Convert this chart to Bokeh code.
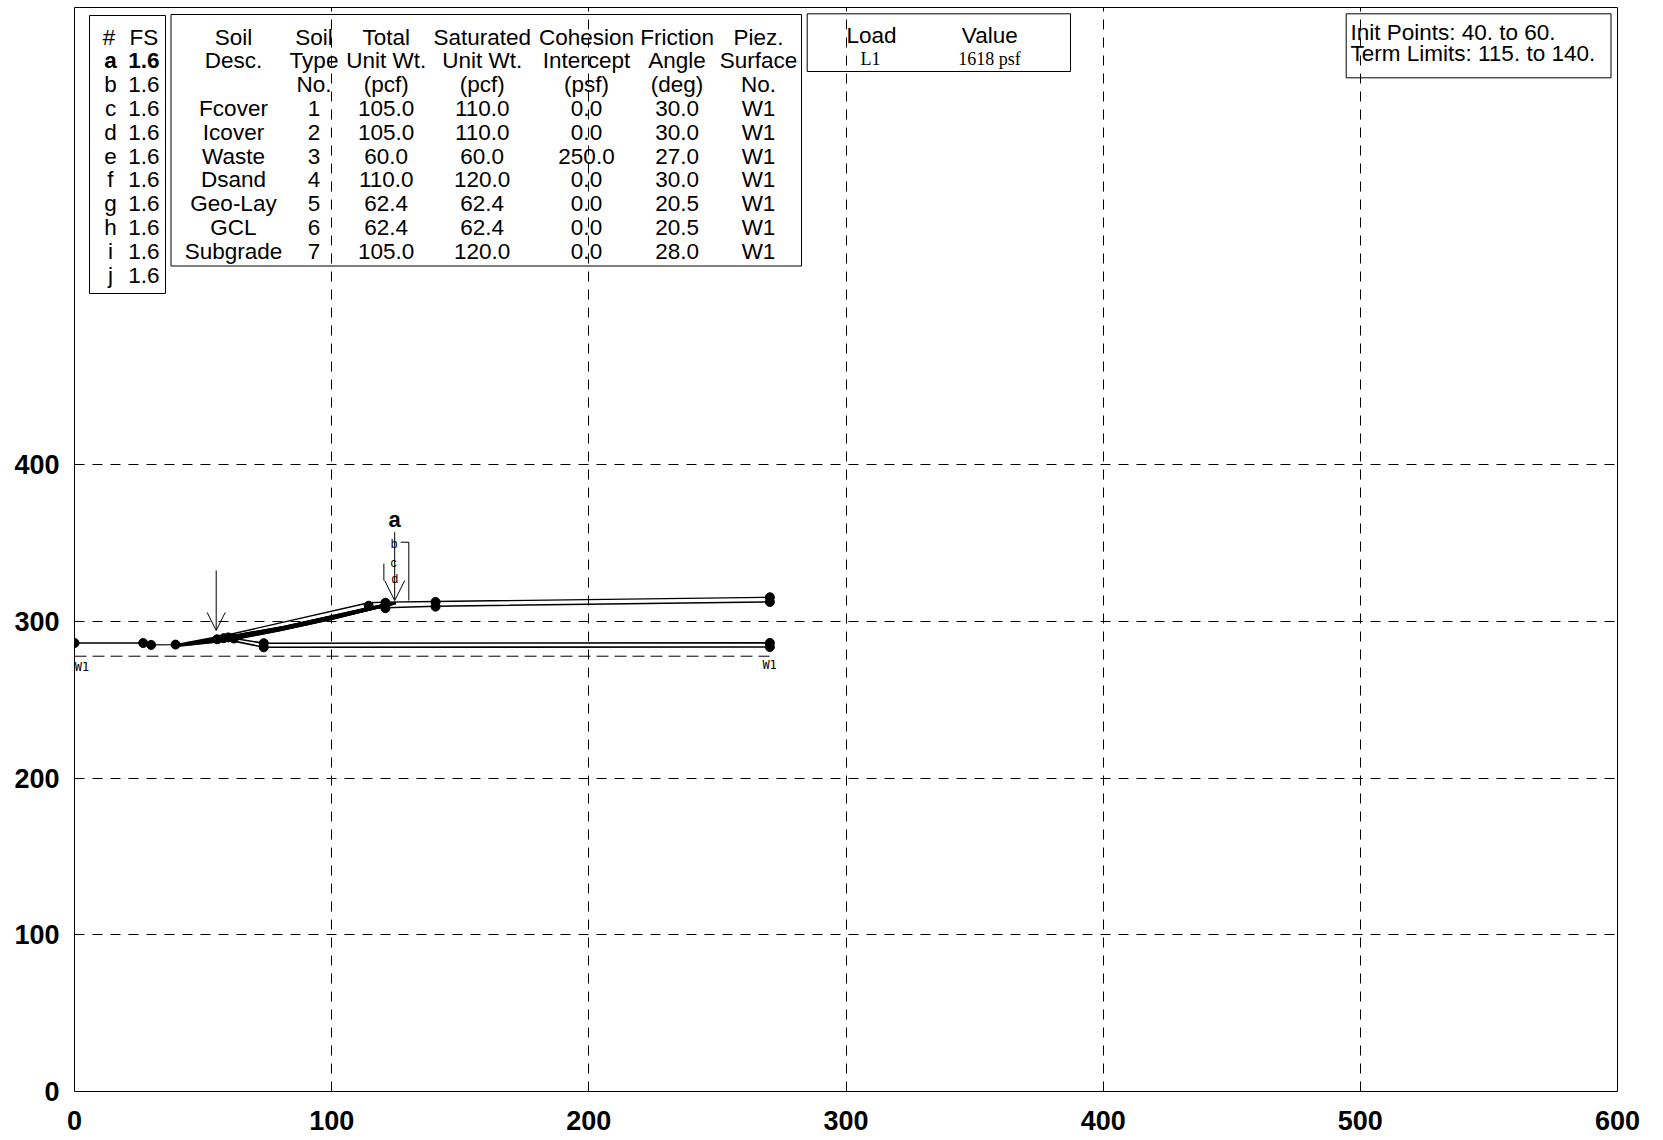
from bokeh.plotting import figure
from bokeh.models import Range1d, FixedTicker, BoxAnnotation, Label, Arrow, OpenHead
from bokeh.core.properties import value
from bokeh.embed import file_html
from bokeh.resources import INLINE

# ---------------- data ----------------
x_ticks = [0, 100, 200, 300, 400, 500, 600]
y_ticks = [0, 100, 200, 300, 400]

fs_ids = ["a", "b", "c", "d", "e", "f", "g", "h", "i", "j"]
fs_vals = ["1.6", "1.6", "1.6", "1.6", "1.6", "1.6", "1.6", "1.6", "1.6", "1.6"]

soil_desc = ["Fcover", "Icover", "Waste", "Dsand", "Geo-Lay", "GCL", "Subgrade"]
soil_type = ["1", "2", "3", "4", "5", "6", "7"]
total_wt = ["105.0", "105.0", "60.0", "110.0", "62.4", "62.4", "105.0"]
sat_wt = ["110.0", "110.0", "60.0", "120.0", "62.4", "62.4", "120.0"]
cohesion = ["0.0", "0.0", "250.0", "0.0", "0.0", "0.0", "0.0"]
friction = ["30.0", "30.0", "27.0", "30.0", "20.5", "20.5", "28.0"]
piez_no = ["W1", "W1", "W1", "W1", "W1", "W1", "W1"]
table_headers = [["Soil", "Desc.", ""], ["Soil", "Type", "No."], ["Total", "Unit Wt.", "(pcf)"],
                 ["Saturated", "Unit Wt.", "(pcf)"], ["Cohesion", "Intercept", "(psf)"],
                 ["Friction", "Angle", "(deg)"], ["Piez.", "Surface", "No."]]

load_names = ["L1"]
load_values = ["1618 psf"]
search_text = ["Init Points: 40. to 60.", "Term Limits: 115. to 140."]

# soil boundary lines
top_x = [0, 26.7, 29.8, 39.3, 59.8, 114.4, 120.9, 140.4, 270.4]
top_y = [286.1, 286.1, 284.9, 285.1, 291.4, 311.8, 312.2, 312.6, 315.3]
cover_x = [39.3, 59.8, 114.4, 120.9, 140.4, 270.4]
cover_y = [284.6, 288.6, 308.8, 308.6, 309.6, 312.3]
geo_x = [59.8, 73.6, 270.4]
geo_y = [289.6, 286.0, 286.2]
gcl_x = [60.5, 73.6, 270.4]
gcl_y = [287.8, 283.4, 283.6]

# piezometric surface W1
piez_x = [0, 270.3]
piez_y = [277.7, 277.7]

# vertex dots
dot_x = [0, 26.7, 29.8, 39.3, 55.5, 58.0, 59.8, 62.0, 73.6, 73.6, 114.4, 120.9, 120.9,
         140.4, 140.4, 270.4, 270.4, 270.4, 270.4]
dot_y = [286.1, 286.1, 284.9, 285.1, 288.5, 289.2, 289.7, 289.0, 286.0, 283.4, 309.9, 311.8, 308.3,
         312.3, 309.3, 315.3, 312.3, 286.2, 283.6]

# failure surfaces a..j
fail_x = [
    [40, 60, 80, 100, 121],
    [44, 60, 80, 100, 123],
    [48, 60, 80, 100, 122],
    [52, 60, 82, 102, 123],
    [56, 61, 82, 102, 124],
    [42, 58, 80, 100, 122],
    [46, 59, 80, 100, 123],
    [50, 60, 81, 101, 122],
    [54, 60, 81, 101, 124],
    [58, 62, 82, 102, 125],
]
fail_y = [
    [284.6, 288.0, 294.6, 301.8, 310.4],
    [285.8, 288.6, 295.0, 302.2, 311.0],
    [287.0, 289.2, 295.4, 302.6, 310.8],
    [288.0, 289.7, 296.0, 303.2, 311.1],
    [289.0, 290.2, 296.2, 303.4, 311.4],
    [285.0, 287.8, 294.6, 301.8, 310.6],
    [286.3, 288.7, 294.9, 302.1, 310.9],
    [287.6, 289.4, 295.6, 302.8, 310.8],
    [288.6, 289.6, 295.7, 302.9, 311.4],
    [289.6, 290.6, 296.4, 303.6, 311.7],
]

# load arrows and label callouts
load_arrow_x = [55.1, 124.5]
load_arrow_top = [332.4, 356.8]
load_arrow_tip = [294.1, 313.2]
bracket_x = [126.8, 130.0, 130.0]
bracket_y = [350.4, 350.4, 313.2]
tick_x = [120.3, 120.3]
tick_y = [336.8, 326.0]
fs_label_x = [124.5]
fs_label_y = [364.9]
minor_labels = ["b", "c", "d"]
minor_label_x = [124.3, 124.0, 124.6]
minor_label_y = [349.5, 337.0, 327.0]
w1_label_x = [2.9, 270.3]
w1_label_y = [270.9, 272.4]

# ---------------- layout helpers ----------------
FL, FT, FB, FW = 74.0, 7.0, 1091.0, 1543.0
Y_END = (FB - FT) / 1.5675
def DX(px):
    return (px - FL) * 600.0 / FW
def DY(py):
    return (FB - py) * Y_END / (FB - FT)

SANS = value("Liberation Sans")
SERIF = value("Liberation Serif")

p = figure(width=1655, height=1140, x_range=Range1d(0, 600), y_range=Range1d(0, Y_END),
           output_backend="svg", toolbar_location=None,
           min_border_left=74, min_border_top=7, min_border_right=38, min_border_bottom=49)
p.background_fill_color = "white"
p.border_fill_color = "white"
p.outline_line_color = "black"
p.outline_line_width = 1

for ax in (p.xaxis, p.yaxis):
    ax.major_label_text_font = "Liberation Sans"
    ax.major_label_text_font_style = "bold"
    ax.major_label_text_font_size = "27px"
    ax.major_label_text_color = "black"
    ax.major_tick_line_color = None
    ax.minor_tick_line_color = None
    ax.axis_line_color = None
    ax.major_tick_out = 0
    ax.major_tick_in = 0
p.xaxis.ticker = FixedTicker(ticks=x_ticks)
p.yaxis.ticker = FixedTicker(ticks=y_ticks)
p.xaxis.major_label_standoff = 19
p.yaxis.major_label_standoff = 15

for g in (p.xgrid, p.ygrid):
    g.grid_line_color = "black"
    g.grid_line_dash = "10 8"
    g.grid_line_width = 1
    g.grid_line_alpha = 1.0

# ---------------- geometry ----------------
p.line(piez_x, piez_y, line_color="black", line_width=1, line_dash="12 6")
p.line(top_x, top_y, line_color="black", line_width=1.4)
p.line(cover_x, cover_y, line_color="black", line_width=1.4)
p.line(geo_x, geo_y, line_color="black", line_width=1.6)
p.line(gcl_x, gcl_y, line_color="black", line_width=1.6)
p.multi_line(fail_x, fail_y, line_color="black", line_width=3)
p.scatter(dot_x, dot_y, marker="circle", size=9, fill_color="black", line_color="black")

p.line(bracket_x, bracket_y, line_color="black", line_width=1)
p.line(tick_x, tick_y, line_color="black", line_width=1)
for i in range(len(load_arrow_x)):
    p.add_layout(Arrow(end=OpenHead(size=20 if i else 18, line_width=1, line_color="black"),
                       x_start=load_arrow_x[i], y_start=load_arrow_top[i],
                       x_end=load_arrow_x[i], y_end=load_arrow_tip[i],
                       line_width=1, line_color="black"))

p.text(fs_label_x, fs_label_y, text=[fs_ids[0]], text_font=SANS, text_font_style="bold",
       text_font_size=value("22px"), text_align="center", text_baseline="middle", text_color="black")
p.text(minor_label_x, minor_label_y, text=minor_labels, text_font=SANS,
       text_font_size=value("12px"), text_align="center", text_baseline="middle", text_color="black")

for lx, ly in zip(w1_label_x, w1_label_y):
    p.add_layout(Label(x=lx, y=ly, text="W1", text_font="DejaVu Sans Mono", text_font_size="12px",
                       text_align="center", text_baseline="middle", text_color="black"))

# ---------------- tables ----------------
row_y = [DY(36.5 + 23.8 * i) for i in range(11)]
box_kw = dict(fill_alpha=0, line_color="black", line_width=1, line_alpha=1)
p.add_layout(BoxAnnotation(left=DX(89), right=DX(165), top=DY(15), bottom=DY(293), **box_kw))
p.add_layout(BoxAnnotation(left=DX(170.5), right=DX(801), top=DY(14), bottom=DY(265.5), **box_kw))
p.add_layout(BoxAnnotation(left=DX(806.7), right=DX(1070), top=DY(13.3), bottom=DY(71), **box_kw))
p.add_layout(BoxAnnotation(left=DX(1345.7), right=DX(1610.5), top=DY(13.3), bottom=DY(77.3), **box_kw))

tkw = dict(text_font=SANS, text_font_size=value("22.5px"), text_align="center",
           text_baseline="middle", text_color="black")

# FS table
p.text([DX(108.5), DX(143.4)], [row_y[0], row_y[0]], text=["#", "FS"], **tkw)
p.text([DX(110), DX(143.4)], [row_y[1], row_y[1]], text=[fs_ids[0], fs_vals[0]],
       text_font_style="bold", **tkw)
p.text([DX(110)] * 9, row_y[2:11], text=fs_ids[1:], **tkw)
p.text([DX(143.4)] * 9, row_y[2:11], text=fs_vals[1:], **tkw)

# soil table
col_x = [DX(v) for v in (233, 313.5, 385.7, 481.7, 586, 676.6, 758)]
for c, hdr in enumerate(table_headers):
    p.text([col_x[c]] * 3, row_y[0:3], text=hdr, **tkw)
for c, col in enumerate([soil_desc, soil_type, total_wt, sat_wt, cohesion, friction, piez_no]):
    p.text([col_x[c]] * len(col), row_y[3:3 + len(col)], text=col, **tkw)

# load table
p.text([DX(871), DX(989.3)], [DY(35), DY(35)], text=["Load", "Value"], **tkw)
p.text([DX(870), DX(989)], [DY(58), DY(58)], text=[load_names[0], load_values[0]],
       text_font=SERIF, text_font_size=value("18px"), text_align="center",
       text_baseline="middle", text_color="black")

# search limits
p.text([DX(1350), DX(1350)], [DY(31.5), DY(53)], text=search_text,
       text_font=SANS, text_font_size=value("22.5px"), text_align="left",
       text_baseline="middle", text_color="black")

open("out.html", "w").write(file_html(p, INLINE))
